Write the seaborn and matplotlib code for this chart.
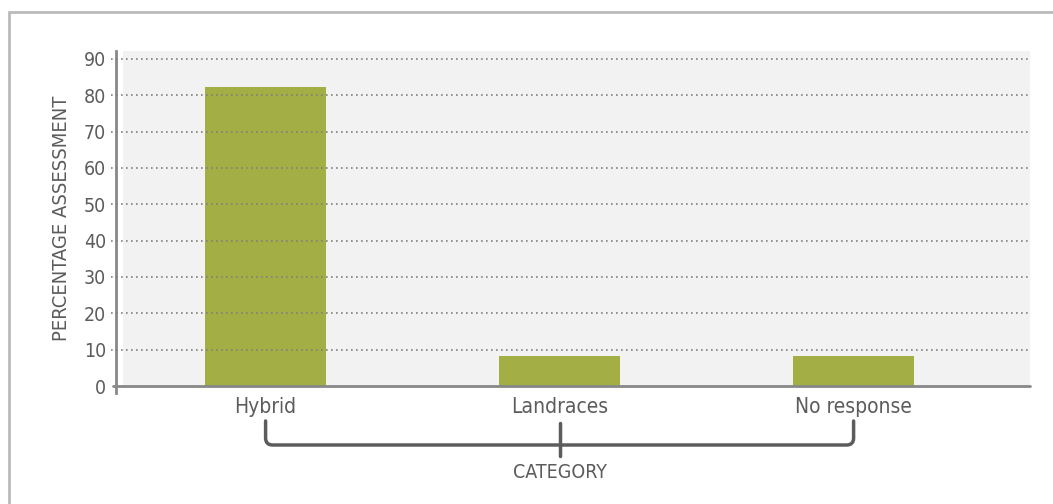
import matplotlib
matplotlib.use("Agg")
import matplotlib.pyplot as plt
import seaborn as sns
import pandas as pd
from matplotlib.lines import Line2D
from matplotlib.path import Path
from matplotlib.patches import PathPatch

# data
categories = ["Hybrid", "Landraces", "No response"]
percentages = [82.4, 8.2, 8.2]
y_ticks = [0, 10, 20, 30, 40, 50, 60, 70, 80, 90]

df = pd.DataFrame({"category": categories, "pct": percentages})

sns.set_style("white")
plt.rcParams["font.family"] = ["DejaVu Sans"]
plt.rcParams["font.stretch"] = "condensed"
txt = "#5c5c5c"

W, H = 1053, 504
fig = plt.figure(figsize=(W / 100, H / 100), dpi=100)
ax = fig.add_axes([123 / W, 1 - 386 / H, (1030 - 123) / W, (386 - 51) / H])
ax.set_facecolor("#f2f2f2")

sns.barplot(data=df, x="category", y="pct", color="#a3ae44", saturation=1,
            width=0.41, ax=ax, zorder=2, linewidth=0, edgecolor="none")

# spines first (set_position resets the tick styling)
for s in ["top", "right", "bottom"]:
    ax.spines[s].set_visible(False)
ax.spines["left"].set_position(("outward", 5))
ax.spines["left"].set_color("#888888")
ax.spines["left"].set_linewidth(2)
ax.spines["left"].set_bounds(-1.9, 92.2)

ax.set_xlim(-0.485, 2.6)
ax.set_ylim(0, 92.2)
ax.set_yticks(y_ticks)
ax.set_yticklabels([str(t) for t in y_ticks])
ax.tick_params(axis="y", length=0, pad=7, labelsize=14, labelcolor=txt)
ax.tick_params(axis="x", length=0, pad=8, labelsize=15, labelcolor=txt)

# dotted gridlines reaching a little past the y axis
for t in y_ticks[1:]:
    ax.axhline(t, xmin=-0.0132, xmax=1, ls=(0, (1, 2)), lw=1.2,
               color="#808080", clip_on=False, zorder=3)
ax.axhline(0, xmin=-0.011, xmax=1, color="#888888", lw=2, clip_on=False, zorder=4)

ax.set_xlabel("")
ax.set_ylabel("PERCENTAGE ASSESSMENT", fontsize=14.5, color=txt, labelpad=9)

# bracket under the category labels
px = [ax.transData.transform((i, 0))[0] for i in range(len(categories))]
r = 7
y_top, y_bar, y_tick = H - 421, H - 445, H - 456
verts = [(px[0], y_top), (px[0], y_bar + r), (px[0], y_bar), (px[0] + r, y_bar),
         (px[-1] - r, y_bar), (px[-1], y_bar), (px[-1], y_bar + r), (px[-1], y_top)]
codes = [Path.MOVETO, Path.LINETO, Path.CURVE3, Path.CURVE3,
         Path.LINETO, Path.CURVE3, Path.CURVE3, Path.LINETO]
verts = [(x / W, y / H) for x, y in verts]
fig.add_artist(PathPatch(Path(verts, codes), transform=fig.transFigure,
                         fill=False, lw=2.5, edgecolor=txt, capstyle="round"))
mid = px[len(px) // 2]
fig.add_artist(Line2D([mid / W, mid / W], [(H - 423) / H, y_tick / H],
                      transform=fig.transFigure, lw=2.5, color=txt))
fig.text(mid / W, 1 - 472 / H, "CATEGORY", ha="center", va="center",
         fontsize=14, color=txt)

# outer frame
fig.add_artist(Line2D([9 / W, 9 / W], [1 - 12 / H, 0], transform=fig.transFigure,
                      lw=2, color="#bbbbbb"))
fig.add_artist(Line2D([9 / W, 1], [1 - 12 / H, 1 - 12 / H], transform=fig.transFigure,
                      lw=2, color="#bbbbbb"))

fig.savefig("out.png", dpi=100)
